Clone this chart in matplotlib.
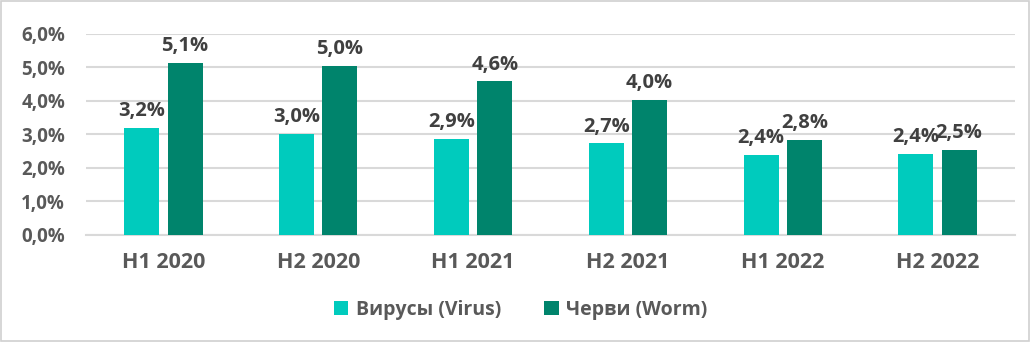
import matplotlib.pyplot as plt
import numpy as np
from matplotlib.patches import Rectangle

periods = ['H1 2020', 'H2 2020', 'H1 2021', 'H2 2021', 'H1 2022', 'H2 2022']
virus = [3.2, 3.0, 2.87, 2.73, 2.38, 2.41]
worm = [5.13, 5.03, 4.58, 4.02, 2.82, 2.54]
series_names = ['Вирусы (Virus)', 'Черви (Worm)']

virus_color = '#00cbbd'
worm_color = '#00846c'
label_color = '#404040'
tick_color = '#595959'
grid_color = '#d9d9d9'

plt.rcParams['font.family'] = ['Open Sans', 'DejaVu Sans']
plt.rcParams['font.weight'] = 'bold'

fig = plt.figure(figsize=(10.31, 3.42), dpi=100)
ax = fig.add_axes([0.0834, 0.313, 0.901, 0.588])

x = np.arange(len(periods))
w = 0.226
off = 0.14
b1 = ax.bar(x - off, virus, w, color=virus_color, label=series_names[0], zorder=3)
b2 = ax.bar(x + off, worm, w, color=worm_color, label=series_names[1], zorder=3)

def fmt(v):
    return ('%.1f%%' % v).replace('.', ',')

for bars, vals in ((b1, virus), (b2, worm)):
    for r, v in zip(bars, vals):
        ax.annotate(fmt(v), (r.get_x() + r.get_width() / 2, v), xytext=(0, 5),
                    textcoords='offset points', ha='center', va='bottom',
                    fontsize=14.5, fontweight='bold', color=label_color)

ax.set_xlim(-0.5, len(periods) - 0.5)
ax.set_ylim(0, 6)
ax.set_yticks(np.arange(0, 7, 1))
ax.set_yticklabels([fmt(t) for t in range(7)])
ax.set_xticks(x)
ax.set_xticklabels(periods)
ax.tick_params(axis='y', length=0, pad=15, labelsize=13.5, labelcolor=tick_color)
ax.tick_params(axis='x', length=0, pad=12, labelsize=15.5, labelcolor=tick_color)
for lab in ax.get_yticklabels() + ax.get_xticklabels():
    lab.set_fontweight('bold')
ax.grid(axis='y', color=grid_color, linewidth=1.5, zorder=0)
for s in ['top', 'right', 'left']:
    ax.spines[s].set_visible(False)
ax.spines['bottom'].set_color(grid_color)
ax.spines['bottom'].set_linewidth(1.5)

leg = fig.legend(loc='center', bbox_to_anchor=(0.505, 0.095), ncol=2, frameon=False,
                 handlelength=0.75, handleheight=0.75, handletextpad=0.4, columnspacing=2.2,
                 prop={'size': 14, 'weight': 'bold'})
for t in leg.get_texts():
    t.set_color(tick_color)

fig.patches.append(Rectangle((0.001, 0.002), 0.997, 0.995, transform=fig.transFigure,
                             fill=False, edgecolor='#d0d0d0', linewidth=1.2))

fig.savefig('out.png', dpi=100)
